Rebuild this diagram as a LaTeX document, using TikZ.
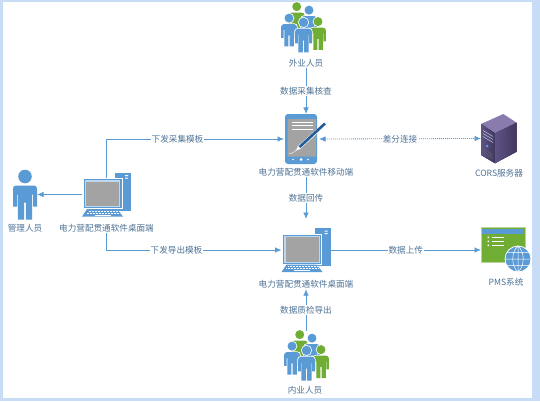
\documentclass[tikz,border=0pt]{standalone}
\usepackage{fontspec}
\setmainfont{Noto Sans CJK SC}
\usepackage{tikz}
\usetikzlibrary{arrows.meta}

\definecolor{framefill}{HTML}{C9DCF5}
\definecolor{iconblue}{HTML}{5B9BD5}
\definecolor{iconpale}{HTML}{BDD7EE}
\definecolor{icongreen}{HTML}{70AD35}
\definecolor{icongrey}{HTML}{A3A3A3}
\definecolor{pendark}{HTML}{1F5C99}
\definecolor{labelblue}{HTML}{4F7396}
\definecolor{servertop}{HTML}{8A7BAE}
\definecolor{serverleft}{HTML}{5F5285}
\definecolor{serverright}{HTML}{41375F}

\begin{document}
\begin{tikzpicture}[
				      x=1pt, y=-1pt,
				      every node/.style = {font=\fontsize{8.6}{10}\selectfont, text=labelblue, align=center},
				      iconbox/.style = {minimum width=#1, inner sep=0pt, outer sep=0pt},
				      caption/.style = {inner sep=1pt},
				      tagtext/.style = {fill=white, inner sep=1pt},
				      link/.style = {draw=iconblue, line width=.8pt, -{Latex[length=6.5pt,width=5.5pt]}},
				      dotlink/.style = {link, dash pattern=on 1pt off 1pt, {Latex[length=6.5pt,width=5.5pt]}-{Latex[length=6.5pt,width=5.5pt]}},
				      pics/person/.style = {code={
						      \fill[#1] (0,-18) circle (6.8);
						      \fill[#1, rounded corners=3pt] (-12,0) -- (-12,-9) -- (12,-9) -- (12,0)
							      [sharp corners] -- (12,12) -- (8,12) -- (8,0) -- (7.2,0) -- (7.2,25) -- (.8,25) -- (.8,8)
							      -- (-.8,8) -- (-.8,25) -- (-7.2,25) -- (-7.2,0) -- (-8,0) -- (-8,12) -- (-12,12) -- cycle;
					      }},
				      pics/member/.style = {code={
						      \fill[#1, preaction={draw=white, line width=1.5pt}] (0,-18) circle (6.8);
						      \fill[#1, preaction={draw=white, line width=1.5pt}, rounded corners=3pt] (-12,0) -- (-12,-9) -- (12,-9) -- (12,0)
							      [sharp corners] -- (12,12) -- (8,12) -- (8,0) -- (7.2,0) -- (7.2,25) -- (.8,25) -- (.8,8)
							      -- (-.8,8) -- (-.8,25) -- (-7.2,25) -- (-7.2,0) -- (-8,0) -- (-8,12) -- (-12,12) -- cycle;
					      }},
				      pics/team/.style = {code={
						      \pic[scale=.66] at (-6.3,-9.5) {member=icongreen};
						      \pic[scale=.66] at (6,-6) {member=iconblue};
						      \pic[scale=.66] at (15,5.5) {member=icongreen};
						      \pic[scale=.66] at (-14,2) {member=iconblue};
						      \pic[scale=.7] at (.5,7) {member=iconblue};
					      }},
				      pics/desktop/.style = {code={
						      \fill[iconblue] (8.5,-22) rectangle (24.5,16);
						      \fill[white] (18.5,-19.5) rectangle (21.5,-18.5) (18.5,-17) rectangle (21.5,-16);
						      \fill[iconblue] (-7.5,9) rectangle (-1.5,15);
						      \draw[white, line width=.5pt, fill=iconblue] (-23.5,-16) rectangle (15.5,14);
						      \fill[iconpale] (-21.8,-14.5) rectangle (13.8,12.5);
						      \fill[icongrey] (-20.5,-13) rectangle (12.5,11.5);
						      \fill[iconblue] (-24.5,22) -- (-19.5,14.5) -- (10.5,14.5) -- (16.5,22) -- cycle;
						      \draw[white, line width=.8pt, dash pattern=on .8pt off .7pt] (-18,16.5) -- (11,16.5) (-20,18.5) -- (13,18.5);
						      \draw[white, line width=.7pt] (-12,20.5) -- (4,20.5);
					      }},
				      pics/tablet/.style = {code={
						      \fill[iconblue, rounded corners=3pt] (-21,-25) rectangle (11,25);
						      \fill[icongrey, rounded corners=1pt] (-18.3,-20) rectangle (10,17.7);
						      \draw[white, line width=.8pt] (-14.3,-17) -- (6.7,-17) (-14.3,-13.3) -- (6.7,-13.3) (-14.3,-10) -- (6.7,-10);
						      \fill[white] (-13,20.5) circle (.9) (-5,20.5) circle (1.5) (2,20.5) circle (.9);
						      \draw[white, line width=.4pt] (-17,14) .. controls (-14,16) and (-12,12) .. (-9.5,11);
						      \draw[white, line width=3.6pt] (-7,8.5) -- (18,-14);
						      \draw[pendark, line width=2.6pt] (-7,8.5) -- (19,-15.5);
						      \fill[white] (-10,11.5) -- (-8,6.8) -- (-5.2,9.8) -- cycle;
					      }},
				      pics/server/.style = {code={
						      \fill[servertop] (4.3,-24.5) -- (17.7,-15.8) -- (-4,-5.2) -- (-18,-14.5) -- cycle;
						      \fill[left color=serverleft, right color=serverright] (-18,-14.5) -- (-4,-5.2) -- (-4,24.8) -- (-18,16.5) -- cycle;
						      \fill[right color=serverright, left color=serverleft] (-4,-5.2) -- (17.7,-15.8) -- (17.7,13.2) -- (-4,24.8) -- cycle;
						      \draw[iconpale, line width=.5pt] (-16,-8) -- (-6,-2) (-16,-5) -- (-6,1) (-16,-2) -- (-6,4);
						      \fill[iconblue] (-12,7.5) circle (1.5);
						      \draw[black!60, line width=.5pt, dash pattern=on .8pt off .6pt] (-15,11) -- (-6,16) (-15,13) -- (-6,18) (-15,15) -- (-6,20);
					      }},
				      pics/pmspanel/.style = {code={
						      \draw[icongreen!50!white, fill=icongreen, line width=.8pt] (-22,-23) rectangle (22,12);
						      \fill[iconblue] (-21,-21.5) rectangle (20.5,-16.5);
						      \fill[white] (-14.7,-12.7) circle (.9) (-14.7,-8.7) circle (.9) (-14.7,-4.7) circle (.9);
						      \draw[white, line width=.9pt] (-11,-12.7) -- (1,-12.7) (-11,-8.7) -- (1,-8.7) (-11,-4.7) -- (1,-4.7);
						      \draw[white, line width=.8pt, fill=iconblue] (15,9) circle (13);
						      \draw[white, line width=.5pt] (15,-4) -- (15,22) (2,9) -- (28,9) (4,2.5) -- (26,2.5) (4,15.5) -- (26,15.5)
							      (15,-4) .. controls (8,2) and (8,16) .. (15,22) (15,-4) .. controls (22,2) and (22,16) .. (15,22);
					      }}
			      ]

			      \fill[framefill] (0,0) rectangle (540,401);
			      \fill[white] (3,2) rectangle (532,398);
			      \useasboundingbox (0,0) rectangle (540,401);

			      \node[iconbox=44pt, minimum height=50pt] (topteam) at (303,28) {};
			      \node[caption] (topteamlabel) at (306,63) {外业人员};
			      \node[iconbox=44pt, minimum height=50pt] (tablet) at (306,139) {};
			      \node[caption] (tabletlabel) at (306,172) {电力营配贯通软件移动端};
			      \node[iconbox=49pt, minimum height=44pt] (desktop) at (306,250) {};
			      \node[caption] (desktoplabel) at (306,284) {电力营配贯通软件桌面端};
			      \node[iconbox=44pt, minimum height=50pt] (bottomteam) at (306,356) {};
			      \node[caption] (bottomteamlabel) at (305,390) {内业人员};
			      \node[iconbox=24pt, minimum height=50pt] (manager) at (25,194.5) {};
			      \node[caption] (managerlabel) at (25,228) {管理人员};
			      \node[iconbox=49pt, minimum height=44pt] (deskleft) at (106.5,194.5) {};
			      \node[caption] (deskleftlabel) at (106.5,228) {电力营配贯通软件桌面端};
			      \node[iconbox=36pt, minimum height=49pt] (server) at (499,138.5) {};
			      \node[caption] (serverlabel) at (499,173) {CORS服务器};
			      \node[iconbox=44pt, minimum height=46pt] (pms) at (503,250) {};
			      \node[caption] (pmslabel) at (506,282) {PMS系统};

			      \draw[link] (topteamlabel.south) -- node[tagtext] (checktag) {数据采集核查} (tablet.north);
			      \draw[link] (tabletlabel.south) -- node[tagtext] (backtag) {数据回传} ([yshift=9pt]desktop.north);
			      \draw[link] (bottomteam.north) -- node[tagtext] (exporttag) {数据质检导出} (desktoplabel.south);
			      \draw[link] (deskleft.west) -- (manager.east);
			      \draw[link] ([yshift=-6pt]deskleft.north) |- node[tagtext, pos=.7] (issuetag) {下发采集模板} (tablet.west);
			      \draw[link] (deskleftlabel.south) |- node[tagtext, pos=.7] (outtag) {下发导出模板} (desktop.west);
			      \draw[dotlink] ([xshift=-9pt]tablet.east) -- node[tagtext] (difftag) {差分连接} (server.west);
			      \draw[link] (desktop.east) -- node[tagtext] (uploadtag) {数据上传} (pms.west);

			      \pic at (topteam) {team};
			      \pic at (bottomteam) {team};
			      \pic at (manager) {person=iconblue};
			      \pic at (deskleft) {desktop};
			      \pic at (desktop) {desktop};
			      \pic at (tablet) {tablet};
			      \pic at (server) {server};
			      \pic at (pms) {pmspanel};
		      \end{tikzpicture}
\end{document}
